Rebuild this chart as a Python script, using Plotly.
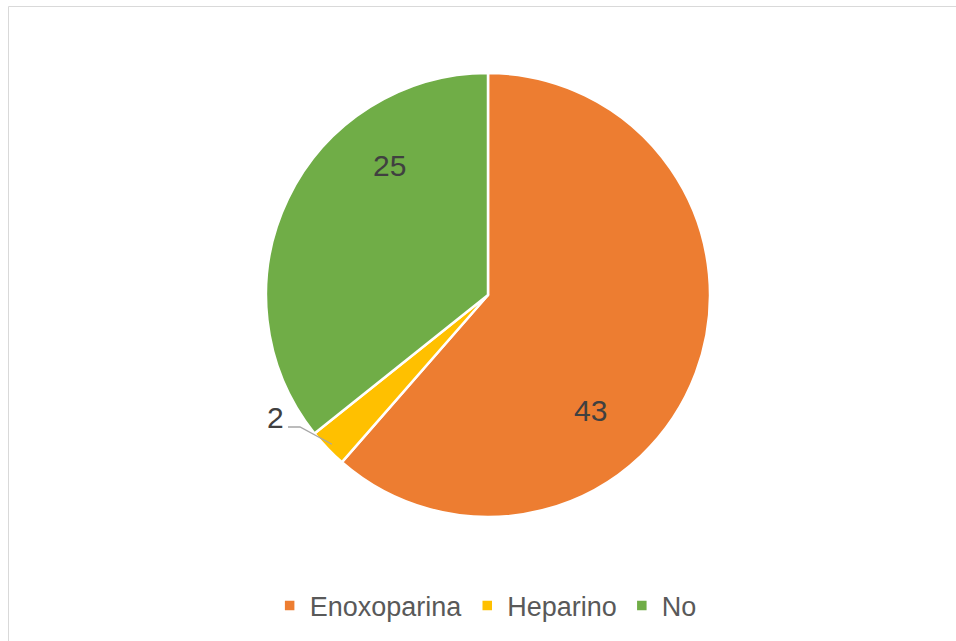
import math
import plotly.graph_objects as go

labels = ["Enoxoparina", "Heparino", "No"]
values = [43, 2, 25]
colors = ["#ED7D31", "#FFC000", "#70AD47"]

W, H = 956, 641
cx, cy, r = 488, 295, 222
# pixel centres of the value labels (layout only)
label_px = [(590, 410), (275, 418), (389, 165)]
FONT = "Liberation Sans, Arial"

def P(x, y):
    return x / W, 1 - y / H

fig = go.Figure(go.Pie(
    labels=labels, values=values, sort=False, direction="clockwise", rotation=0,
    marker=dict(colors=colors, line=dict(color="white", width=2.5)),
    textinfo="none",
    domain=dict(x=[(cx - r) / W, (cx + r) / W], y=[1 - (cy + r) / H, 1 - (cy - r) / H]),
    hoverinfo="label+value",
))

for v, (lx, ly) in zip(values, label_px):
    ax, ay = P(lx, ly)
    fig.add_annotation(x=ax, y=ay, xref="paper", yref="paper", text=str(v),
                       showarrow=False, xanchor="center", yanchor="middle",
                       font=dict(size=30, color="#404040", family=FONT))

# leader line for the small slice
total = sum(values)
start = values[0] / total * 360
end = (values[0] + values[1]) / total * 360
mid = math.radians((start + end) / 2)
px = cx + (r - 6) * math.sin(mid)
py = cy - (r - 6) * math.cos(mid)
lx, ly = label_px[1]
ey = ly + 9
ex = lx + 25
hx = lx + 13
fig.add_shape(type="path", xref="paper", yref="paper",
              path="M {} {} L {} {} L {} {}".format(*P(px, py), *P(ex, ey), *P(hx, ey)),
              line=dict(color="#A6A6A6", width=1.3))

# chart border
fig.add_shape(type="rect", xref="paper", yref="paper",
              x0=8.5 / W, x1=1.02, y0=-0.02, y1=1 - 6.5 / H,
              line=dict(color="#D9D9D9", width=1))

fig.update_layout(
    width=W, height=H, margin=dict(l=0, r=0, t=0, b=0),
    paper_bgcolor="white", plot_bgcolor="white",
    showlegend=True,
    legend=dict(orientation="h", x=0.508, xanchor="center", y=1 - 606 / H, yanchor="middle",
                font=dict(size=27, color="#595959", family=FONT),
                itemwidth=30, traceorder="normal"),
)

fig.write_html("out.html")
